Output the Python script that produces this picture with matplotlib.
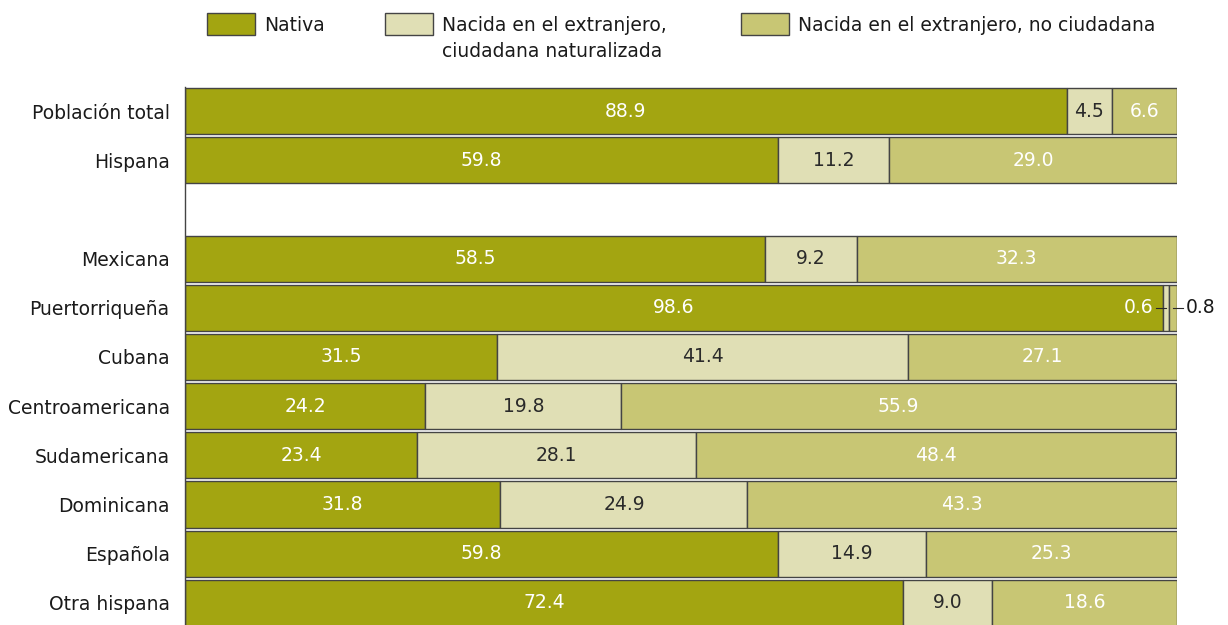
import matplotlib
matplotlib.use("Agg")
import matplotlib.pyplot as plt
from matplotlib.patches import Rectangle

categories = ["Población total", "Hispana", "", "Mexicana", "Puertorriqueña", "Cubana",
              "Centroamericana", "Sudamericana", "Dominicana", "Española", "Otra hispana"]
nativa = [88.9, 59.8, None, 58.5, 98.6, 31.5, 24.2, 23.4, 31.8, 59.8, 72.4]
naturalizada = [4.5, 11.2, None, 9.2, 0.6, 41.4, 19.8, 28.1, 24.9, 14.9, 9.0]
no_ciudadana = [6.6, 29.0, None, 32.3, 0.8, 27.1, 55.9, 48.4, 43.3, 25.3, 18.6]
series_names = ["Nativa", "Nacida en el extranjero,\nciudadana naturalizada",
                "Nacida en el extranjero, no ciudadana"]

colors = ["#A3A511", "#E0DFB5", "#C8C674"]
text_colors = ["white", "#2a2a2a", "white"]
edge = "#444444"

plt.rcParams['font.family'] = ['DejaVu Sans']
fig = plt.figure(figsize=(12.28, 6.25), dpi=100)
ax = fig.add_axes([185/1228, 0, 992/1228, (625-87)/625])

fs = 13.5
for i, cat in enumerate(categories):
    if nativa[i] is None:
        continue
    vals = [nativa[i], naturalizada[i], no_ciudadana[i]]
    left = 0
    for j, v in enumerate(vals):
        ax.barh(i, v, left=left, height=0.94, color=colors[j], edgecolor=edge, linewidth=1.0)
        if v >= 2:
            ax.text(left + v/2, i, f"{v:.1f}", ha="center", va="center",
                    color=text_colors[j], fontsize=fs)
        left += v

# small segments for Puertorriqueña
i = 4
x_nat_mid = nativa[i] + naturalizada[i]/2
x_nc_mid = nativa[i] + naturalizada[i] + no_ciudadana[i]/2
ax.plot([x_nat_mid - 1.0, x_nat_mid], [i, i], color="#2a2a2a", lw=0.8)
ax.text(x_nat_mid - 1.3, i, f"{naturalizada[i]:.1f}", ha="right", va="center",
        color="white", fontsize=fs)
ax.plot([x_nc_mid, x_nc_mid + 1.0], [i, i], color="#2a2a2a", lw=0.8, clip_on=False)
ax.text(x_nc_mid + 1.3, i, f"{no_ciudadana[i]:.1f}", ha="left", va="center",
        color="#1a1a1a", fontsize=fs, clip_on=False)

ax.set_xlim(0, 100)
ax.set_ylim(10.45, -0.49)
ax.set_yticks(range(len(categories)))
ax.set_yticklabels(categories, fontsize=fs, color="#1a1a1a")
ax.tick_params(axis="y", length=0, pad=11)
ax.set_xticks([])
for s in ["top", "right", "bottom"]:
    ax.spines[s].set_visible(False)
ax.spines["left"].set_color(edge)
ax.spines["left"].set_linewidth(1.0)

# legend
W, H = 1228, 625
leg = [(207, series_names[0]), (385, series_names[1]), (741, series_names[2])]
for j, (x, name) in enumerate(leg):
    fig.add_artist(Rectangle((x/W, 1 - 35/H), 48/W, 22/H, transform=fig.transFigure,
                             facecolor=colors[j], edgecolor=edge, linewidth=1.0))
    fig.text((x + 57)/W, 1 - 16/H, name, ha="left", va="top", fontsize=fs,
             color="#1a1a1a", linespacing=1.45)

fig.savefig("out.png", dpi=100)
